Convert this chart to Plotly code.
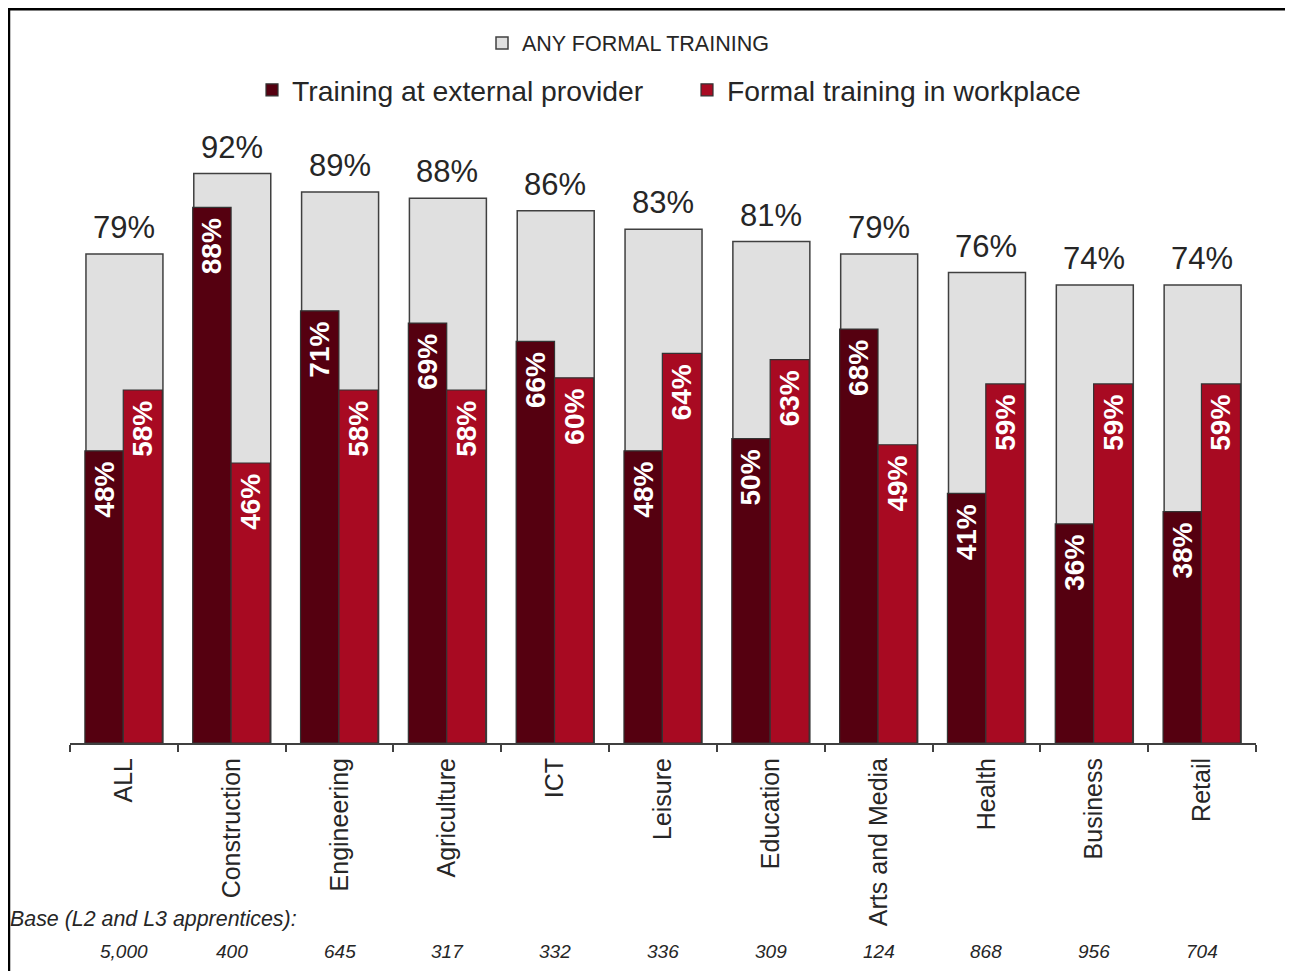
import plotly.graph_objects as go

categories = ["ALL", "Construction", "Engineering", "Agriculture", "ICT", "Leisure",
              "Education", "Arts and Media", "Health", "Business", "Retail"]
any_formal = [79, 92, 89, 88, 86, 83, 81, 79, 76, 74, 74]
external = [48, 88, 71, 69, 66, 48, 50, 68, 41, 36, 38]
workplace = [58, 46, 58, 58, 60, 64, 63, 49, 59, 59, 59]
base_sizes = ["5,000", "400", "645", "317", "332", "336", "309", "124", "868", "956", "704"]

FONT = "Liberation Sans, Arial, sans-serif"
TXT = "#262626"
NB = "\u00a0"

# page is offset by the 8px body margin; plot area in page px: x 70..1256, y 124..743
PL, PW, PT, PH = 62, 1186, 116, 619


def px(x_page):
    return (x_page - 8 - PL) / PW


def py(y_page):
    return (PT + PH - (y_page - 8)) / PH


fig = go.Figure()

fig.add_trace(go.Bar(
    x=categories, y=any_formal, name="ANY FORMAL TRAINING",
    marker=dict(color="#e0e0e0", line=dict(color="#404040", width=1.5)),
    width=0.714, offset=-0.352, yaxis="y", legend="legend",
    hoverinfo="skip",
))
fig.add_trace(go.Bar(
    x=categories, y=external, name="Training at external provider",
    marker=dict(color="#550010", line=dict(color="#333333", width=1.2)),
    width=0.356, offset=-0.362, yaxis="y2", legend="legend2",
    text=[f"{v}%{NB}" for v in external], textposition="inside",
    insidetextanchor="end", textangle=-90,
    textfont=dict(family=FONT, size=28, color="white", weight="bold"),
    constraintext="none", hoverinfo="skip",
))
fig.add_trace(go.Bar(
    x=categories, y=workplace, name="Formal training in workplace",
    marker=dict(color="#a80a22", line=dict(color="#333333", width=1.2)),
    width=0.362, offset=-0.006, yaxis="y2", legend="legend2",
    text=[f"{v}%{NB}" for v in workplace], textposition="inside",
    insidetextanchor="end", textangle=-90,
    textfont=dict(family=FONT, size=28, color="white", weight="bold"),
    constraintext="none", hoverinfo="skip",
))

annotations = []
for c, v in zip(categories, any_formal):
    annotations.append(dict(
        x=c, y=v, xref="x", yref="y", text=f"{v}%", showarrow=False,
        xanchor="center", yanchor="bottom", yshift=7,
        font=dict(family=FONT, size=31, color=TXT),
    ))
for c, b in zip(categories, base_sizes):
    annotations.append(dict(
        x=c, y=py(951), xref="x", yref="paper", text=f"<i>{b}</i>", showarrow=False,
        xanchor="center", yanchor="middle",
        font=dict(family=FONT, size=19, color=TXT),
    ))
annotations.append(dict(
    x=px(8), y=py(919), xref="paper", yref="paper", text="<i>Base (L2 and L3 apprentices):</i>",
    showarrow=False, xanchor="left", yanchor="middle",
    font=dict(family=FONT, size=21.4, color=TXT),
))

shapes = [
    dict(type="line", xref="paper", yref="paper", x0=px(9), x1=px(9),
         y0=py(8.2), y1=py(990), line=dict(color="black", width=2.5)),
    dict(type="line", xref="paper", yref="paper", x0=px(8), x1=px(1292),
         y0=py(9.2), y1=py(9.2), line=dict(color="black", width=2.5)),
    dict(type="line", xref="paper", yref="paper", x0=px(1291.5), x1=px(1291.5),
         y0=py(9), y1=py(990), line=dict(color="#909090", width=1.2)),
]

fig.update_layout(
    width=1285, height=963,
    margin=dict(l=PL, r=1285 - PL - PW, t=PT, b=963 - PT - PH),
    paper_bgcolor="white", plot_bgcolor="white",
    barmode="overlay",
    font=dict(family=FONT, color=TXT),
    xaxis=dict(
        type="category", tickangle=-90, tickson="boundaries", ticks="outside",
        ticklen=7, tickwidth=2, tickcolor="#404040",
        showline=True, linecolor="#404040", linewidth=2,
        tickfont=dict(family=FONT, size=25, color=TXT), ticklabelstandoff=3,
        showgrid=False, zeroline=False, range=[-0.5, 10.5],
    ),
    yaxis=dict(range=[0, 100], visible=False, showgrid=False, fixedrange=True),
    yaxis2=dict(range=[0, 101.7], overlaying="y", visible=False, showgrid=False),
    legend=dict(
        orientation="h", x=px(628), xanchor="center", y=py(43), yanchor="middle",
        font=dict(family=FONT, size=21.5, color=TXT), bgcolor="rgba(0,0,0,0)",
    ),
    legend2=dict(
        orientation="h", x=px(252), xanchor="left", y=py(90), yanchor="middle",
        font=dict(family=FONT, size=28.3, color=TXT), bgcolor="rgba(0,0,0,0)",
        entrywidth=390, entrywidthmode="pixels",
    ),
    annotations=annotations,
    shapes=shapes,
    showlegend=True,
)

fig.write_html("out.html")
